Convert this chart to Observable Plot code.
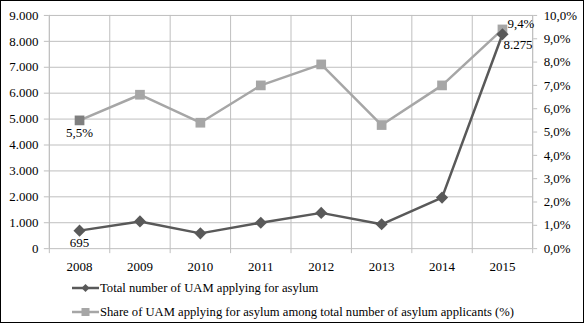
<!DOCTYPE html>
<html>
<head>
<meta charset="utf-8">
<script src="https://cdn.jsdelivr.net/npm/d3@7"></script>
<script src="https://cdn.jsdelivr.net/npm/@observablehq/plot@0.6"></script>
<style>
  html, body { margin: 0; padding: 0; background: #fff; }
  #frame { position: relative; width: 584px; height: 323px; box-sizing: border-box; border: 1px solid #000; overflow: hidden; font-family: "Liberation Serif", "Times New Roman", serif; }
  #chart { position: absolute; left: -1px; top: -1px; }
  .sym { position: absolute; left: 71px; width: 27px; height: 12px; display: block; }
  .lab { position: absolute; left: 99px; font-size: 13px; line-height: 16px; color: #000; white-space: nowrap; }
</style>
</head>
<body>
<div id="frame">
  <div id="chart"></div>
  <svg class="sym" style="top:281px" width="27" height="12"><line x1="0" y1="6" x2="27" y2="6" stroke="#595959" stroke-width="2.5"/><path d="M13.5,2 L17.5,6 L13.5,10 L9.5,6 Z" fill="#595959"/></svg>
  <span class="lab" id="lab1" style="top:279px">Total number of UAM applying for asylum</span>
  <svg class="sym" style="top:305px" width="27" height="12"><line x1="0" y1="6" x2="27" y2="6" stroke="#a6a6a6" stroke-width="2.5"/><rect x="9.5" y="2" width="8" height="8" fill="#a6a6a6"/></svg>
  <span class="lab" id="lab2" style="top:303px">Share of UAM applying for asylum among total number of asylum applicants (%)</span>
</div>
<script>
const years = [2008, 2009, 2010, 2011, 2012, 2013, 2014, 2015];
const totalUAM = [695, 1050, 590, 1000, 1380, 940, 1970, 8275];
const sharePct = [5.5, 6.6, 5.4, 7.0, 7.9, 5.3, 7.0, 9.4];
const leftTicks = [0, 1000, 2000, 3000, 4000, 5000, 6000, 7000, 8000, 9000];
const rightTicks = [0, 1, 2, 3, 4, 5, 6, 7, 8, 9, 10];

const PCT_TO_Y = 900; // 10% on the right axis aligns with 9.000 on the left
const uam = years.map((y, i) => ({year: y, value: totalUAM[i]}));
const share = years.map((y, i) => ({year: y, value: sharePct[i] * PCT_TO_Y, pct: sharePct[i]}));
const bounds = d3.range(years[0] - 0.5, years[years.length - 1] + 1, 1);
const fmtThousands = d => d3.format(",")(d).replace(/,/g, ".");
const fmtPct = d => d.toFixed(1).replace(".", ",") + "%";
const grid = "#bfbfbf";

const chart = Plot.plot({
  width: 585,
  height: 282,
  marginLeft: 49,
  marginRight: 51,
  marginTop: 15,
  marginBottom: 33,
  style: {fontFamily: "'Liberation Serif', 'Times New Roman', serif", fontSize: "13px", color: "#000", background: "transparent"},
  x: {type: "linear", domain: [years[0] - 0.5, years[years.length - 1] + 0.5]},
  y: {domain: [0, 9000]},
  marks: [
    Plot.ruleY(leftTicks.slice(1), {stroke: grid, strokeWidth: 1}),
    Plot.ruleX([years[0] - 0.5, years[years.length - 1] + 0.5], {stroke: grid, strokeWidth: 1}),
    Plot.ruleY([0], {stroke: grid, strokeWidth: 1}),
    Plot.axisY({anchor: "left", ticks: leftTicks, tickFormat: fmtThousands, tickSize: 5, tickPadding: 6, stroke: grid, label: null, fontSize: 13}),
    Plot.axisY({anchor: "right", ticks: rightTicks.map(d => d * PCT_TO_Y), tickFormat: d => fmtPct(d / PCT_TO_Y), tickSize: 4, tickPadding: 7, stroke: grid, label: null, fontSize: 13}),
    Plot.tickX(bounds, {x: d => d, y1: 0, y2: 0, stroke: grid, insetBottom: -5}),
    Plot.axisX({ticks: years, tickFormat: d => String(d), tickSize: 0, tickPadding: 13, label: null, fontSize: 13}),
    Plot.line(share, {x: "year", y: "value", stroke: "#a6a6a6", strokeWidth: 2.5}),
    Plot.dot(share, {x: "year", y: "value", symbol: "square", r: 5.5, fill: (d, i) => i === 0 ? "#7f7f7f" : "#a6a6a6", stroke: "none"}),
    Plot.line(uam, {x: "year", y: "value", stroke: "#595959", strokeWidth: 2.5}),
    Plot.dot(uam, {x: "year", y: "value", symbol: "diamond2", r: 5.5, fill: "#595959", stroke: "none"}),
    Plot.text([uam[0]], {x: "year", y: "value", text: d => fmtThousands(d.value), dy: 12, fontSize: 13, fill: "#000"}),
    Plot.text([share[0]], {x: "year", y: "value", text: d => fmtPct(d.pct), dy: 13, fontSize: 13, fill: "#000"}),
    Plot.text([share[share.length - 1]], {x: "year", y: "value", text: d => fmtPct(d.pct), dx: 5, dy: -6, textAnchor: "start", fontSize: 13, fill: "#000"}),
    Plot.text([uam[uam.length - 1]], {x: "year", y: "value", text: d => fmtThousands(d.value), dx: 1, dy: 11, textAnchor: "start", fontSize: 13, fill: "#000"})
  ]
});
document.getElementById("chart").appendChild(chart);

// fit the legend text to the width of the reference's longest legend line
const lab2 = document.getElementById("lab2");
const w = lab2.getBoundingClientRect().width;
if (w > 0) {
  const fs = Math.max(11, Math.min(14, 13 * 414 / w));
  document.querySelectorAll(".lab").forEach(el => el.style.fontSize = fs + "px");
}
</script>
</body>
</html>
